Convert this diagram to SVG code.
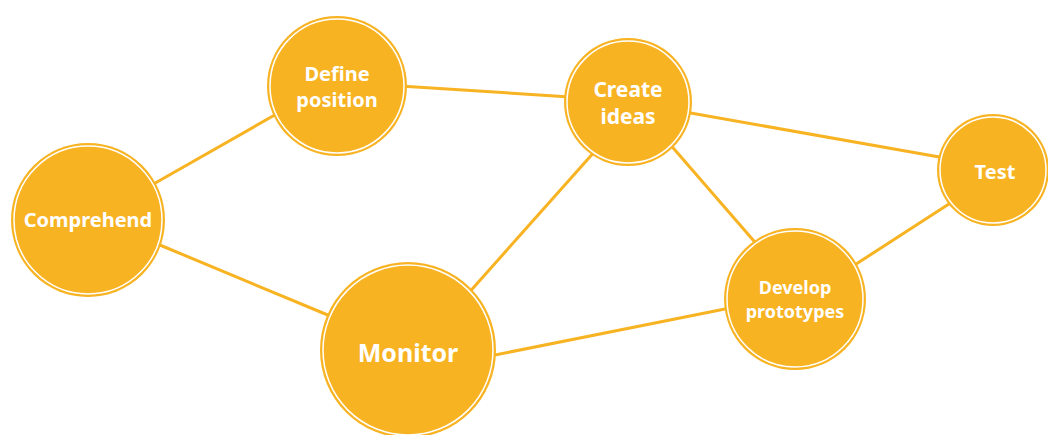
<svg xmlns="http://www.w3.org/2000/svg" width="1048" height="435" viewBox="0 0 1048 435">
<style>
.edge{stroke:#F8B323;stroke-width:3;fill:none}
.disc{fill:#F8B323}
.ring{fill:none;stroke:#fff;stroke-width:1.5}
.lbl{font-family:"Noto Sans","Open Sans",sans-serif;font-weight:bold;fill:#fff;text-anchor:middle}
</style>
<rect width="1048" height="435" fill="#fff"/>
<g id="connectors">
<line class="edge" x1="150" y1="186" x2="280" y2="112"/>
<line class="edge" x1="155" y1="243" x2="335" y2="318"/>
<line class="edge" x1="400" y1="86" x2="570" y2="97"/>
<line class="edge" x1="685" y1="112" x2="945" y2="158"/>
<line class="edge" x1="668" y1="142" x2="760" y2="248"/>
<line class="edge" x1="596" y1="150" x2="466" y2="296"/>
<line class="edge" x1="490" y1="356" x2="730" y2="308"/>
<line class="edge" x1="850" y1="268" x2="952" y2="202"/>
</g>
<g id="comprehend">
<circle class="disc" cx="88" cy="220" r="77"/>
<circle class="ring" cx="88" cy="220" r="74"/>
<text class="lbl" x="88" y="227" font-size="20">Comprehend</text>
</g>
<g id="define-position">
<circle class="disc" cx="337" cy="86" r="70"/>
<circle class="ring" cx="337" cy="86" r="67"/>
<text class="lbl" x="337" y="81" font-size="20">Define</text>
<text class="lbl" x="337" y="107" font-size="20">position</text>
</g>
<g id="monitor">
<circle class="disc" cx="408" cy="350" r="88"/>
<circle class="ring" cx="408" cy="350" r="85"/>
<text class="lbl" x="408" y="362" font-size="25">Monitor</text>
</g>
<g id="create-ideas">
<circle class="disc" cx="628" cy="102" r="64"/>
<circle class="ring" cx="628" cy="102" r="61"/>
<text class="lbl" x="628" y="97" font-size="21">Create</text>
<text class="lbl" x="628" y="124" font-size="21">ideas</text>
</g>
<g id="develop-prototypes">
<circle class="disc" cx="795" cy="299" r="71"/>
<circle class="ring" cx="795" cy="299" r="68"/>
<text class="lbl" x="795" y="294" font-size="18">Develop</text>
<text class="lbl" x="795" y="318" font-size="18">prototypes</text>
</g>
<g id="test">
<circle class="disc" cx="993" cy="170" r="56"/>
<circle class="ring" cx="993" cy="170" r="53"/>
<text class="lbl" x="995" y="179" font-size="20">Test</text>
</g>
</svg>
